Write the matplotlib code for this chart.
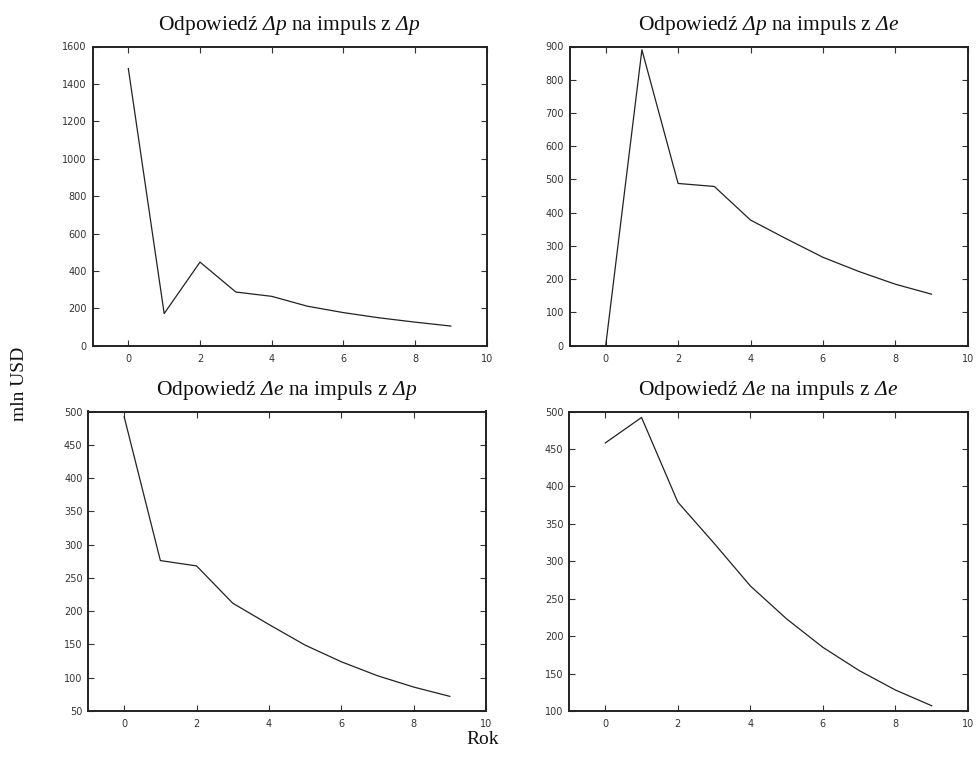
import matplotlib
matplotlib.use('Agg')
import matplotlib.pyplot as plt

plt.rcParams['mathtext.fontset'] = 'custom'
plt.rcParams['mathtext.rm'] = 'Liberation Serif'
# sf -> kursywa, bo 'it' wymusza proste litery greckie
plt.rcParams['mathtext.sf'] = 'Liberation Serif:italic'

# lata po impulsie
rok = [0, 1, 2, 3, 4, 5, 6, 7, 8, 9]

# odpowiedzi na impuls (mln USD)
dp_na_dp = [1482, 172, 447, 287, 264, 211, 177, 149, 126, 105]
dp_na_de = [0, 890, 488, 479, 378, 321, 266, 223, 185, 155]
de_na_dp = [492, 276, 268, 212, 180, 149, 124, 103, 86, 72]
de_na_de = [458, 492, 379, 324, 267, 223, 185, 154, 128, 107]

tytuly = [r'Odpowiedź $\mathsf{\Delta p}$ na impuls z $\mathsf{\Delta p}$',
          r'Odpowiedź $\mathsf{\Delta p}$ na impuls z $\mathsf{\Delta e}$',
          r'Odpowiedź $\mathsf{\Delta e}$ na impuls z $\mathsf{\Delta p}$',
          r'Odpowiedź $\mathsf{\Delta e}$ na impuls z $\mathsf{\Delta e}$']
serie = [dp_na_dp, dp_na_de, de_na_dp, de_na_de]
ylims = [(0, 1600), (0, 900), (50, 500), (100, 500)]
yticks = [range(0, 1601, 200), range(0, 901, 100), range(50, 501, 50), range(100, 501, 50)]

W, H = 977, 763
# pozycje osi w pikselach: lewo, prawo, gora, dol
boxes = [(92.5, 486.7, 46.5, 345.7),
         (569.5, 967.7, 46.5, 345.7),
         (88, 486, 411.5, 711),
         (569, 968, 411.5, 711)]

fig = plt.figure(figsize=(W / 100, H / 100), dpi=100)

for i in range(4):
    l, r, t, b = boxes[i]
    ax = fig.add_axes([l / W, 1 - b / H, (r - l) / W, (b - t) / H])
    ax.plot(rok, serie[i], color='#222222', lw=0.9)
    ax.set_xlim(-1, 10)
    ax.set_ylim(*ylims[i])
    ax.set_xticks(range(0, 11, 2))
    ax.set_yticks(list(yticks[i]))
    ax.tick_params(direction='in', top=True, right=True, length=4, width=0.8,
                   labelsize=7, labelcolor='#333333', colors='#333333')
    ax.tick_params(axis='x', pad=6)
    ax.tick_params(axis='y', pad=4)
    for s in ax.spines.values():
        s.set_linewidth(1.4)
        s.set_color('#222222')
    ax.set_title(tytuly[i], family='Liberation Serif', fontsize=15.5, pad=12, color='#111111')

fig.text(20 / W, 1 - 384 / H, 'mln USD', rotation=90, ha='center', va='center',
         family='Liberation Serif', fontsize=14, color='#111111')
fig.text(483 / W, 1 - 740 / H, 'Rok', ha='center', va='center',
         family='Liberation Serif', fontsize=14, color='#111111')

fig.savefig('out.png', dpi=100)
